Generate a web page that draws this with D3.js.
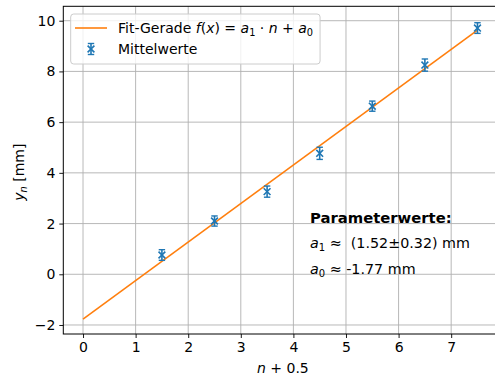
<!DOCTYPE html>
<html><head><meta charset="utf-8">
<script src="https://cdn.jsdelivr.net/npm/d3@7"></script>
<style>body{margin:0;background:#fff}svg{display:block;font-family:"DejaVu Sans",sans-serif}text{white-space:pre}</style>
</head><body><svg id="c" width="495" height="378"></svg>
<script>
const xVals = [1.5, 2.5, 3.5, 4.5, 5.5, 6.5, 7.5];
const yVals = [0.76, 2.10, 3.26, 4.77, 6.63, 8.25, 9.71];
const yErr = [0.21, 0.20, 0.22, 0.24, 0.20, 0.24, 0.21];
const fitSlope = 1.52, fitIntercept = -1.77;
const fitX = [0, 7.5];
const xTicks = [0,1,2,3,4,5,6,7];
const yTicks = [-2,0,2,4,6,8,10];

const svg = d3.select("#c");
const L=63.3, R=497.2, T=6.3, B=334;
const x = d3.scaleLinear().domain([-0.375,7.875]).range([L,R]);
const y = d3.scaleLinear().domain([-2.355,10.568]).range([B,T]);
const fs = 14;
const FF = "DejaVu Sans";

// grid
svg.append("g").selectAll("line").data(xTicks).join("line")
  .attr("x1",d=>x(d)).attr("x2",d=>x(d)).attr("y1",T).attr("y2",B)
  .attr("stroke","#b0b0b0").attr("stroke-width",0.9);
svg.append("g").selectAll("line").data(yTicks).join("line")
  .attr("y1",d=>y(d)).attr("y2",d=>y(d)).attr("x1",L).attr("x2",R)
  .attr("stroke","#b0b0b0").attr("stroke-width",0.9);

// fit line
svg.append("path").datum(fitX)
  .attr("d", d3.line().x(d=>x(d)).y(d=>y(fitSlope*d+fitIntercept)))
  .attr("stroke","#ff7f0e").attr("stroke-width",1.6).attr("fill","none");

// error bars
const blue="#1f77b4";
const pts = svg.append("g").selectAll("g").data(xVals.map((v,i)=>({x:v,y:yVals[i],e:yErr[i]}))).join("g");
pts.append("line").attr("x1",d=>x(d.x)).attr("x2",d=>x(d.x)).attr("y1",d=>y(d.y-d.e)).attr("y2",d=>y(d.y+d.e)).attr("stroke",blue).attr("stroke-width",1.6);
pts.append("line").attr("x1",d=>x(d.x)-3.2).attr("x2",d=>x(d.x)+3.2).attr("y1",d=>y(d.y-d.e)).attr("y2",d=>y(d.y-d.e)).attr("stroke",blue).attr("stroke-width",1.4);
pts.append("line").attr("x1",d=>x(d.x)-3.2).attr("x2",d=>x(d.x)+3.2).attr("y1",d=>y(d.y+d.e)).attr("y2",d=>y(d.y+d.e)).attr("stroke",blue).attr("stroke-width",1.4);
pts.append("path").attr("d",d=>{const cx=x(d.x),cy=y(d.y),s=3.4;return `M${cx-s},${cy-s}L${cx+s},${cy+s}M${cx-s},${cy+s}L${cx+s},${cy-s}`;})
  .attr("stroke",blue).attr("stroke-width",1.6);

// spines
svg.append("rect").attr("x",L).attr("y",T).attr("width",R-L).attr("height",B-T).attr("fill","none").attr("stroke","#000").attr("stroke-width",1);

// axes ticks
const xa = svg.append("g").attr("transform",`translate(0,${B})`).call(d3.axisBottom(x).tickValues(xTicks).tickSize(4).tickPadding(4).tickFormat(d3.format("d")));
const ya = svg.append("g").attr("transform",`translate(${L},0)`).call(d3.axisLeft(y).tickValues(yTicks).tickSize(4).tickPadding(4).tickFormat(d=>d<0?"\u2212"+(-d):d));
[xa,ya].forEach(a=>{a.attr("font-family",FF).attr("font-size",fs);a.select(".domain").remove();a.selectAll("text").attr("font-size",fs).attr("font-family",FF).attr("fill","#000");a.selectAll("line").attr("stroke","#000").attr("stroke-width",0.9);});

// axis labels
const xl = svg.append("text").attr("x",x(3.8)).attr("y",373).attr("text-anchor","middle").attr("font-size",fs).attr("font-family",FF);
xl.append("tspan").attr("font-style","italic").text("n");
xl.append("tspan").text(" + 0.5");
const yl = svg.append("text").attr("transform",`translate(24,${(T+B)/2+2}) rotate(-90)`).attr("text-anchor","middle").attr("font-size",fs).attr("font-family",FF);
yl.append("tspan").attr("font-style","italic").text("y");
yl.append("tspan").attr("font-style","italic").attr("font-size",fs*0.7).attr("dy",3).text("n");
yl.append("tspan").attr("dy",-3).text(" [mm]");

// legend
const lg = svg.append("g").attr("font-family",FF);
const box = lg.append("rect").attr("x",70.7).attr("y",14).attr("height",50).attr("rx",3)
  .attr("fill","#fff").attr("fill-opacity",0.8).attr("stroke","#cccccc").attr("stroke-width",1);
lg.append("line").attr("x1",75).attr("x2",107).attr("y1",28).attr("y2",28).attr("stroke","#ff7f0e").attr("stroke-width",1.6);
const t1 = lg.append("text").attr("x",118).attr("y",33).attr("font-size",fs);
t1.append("tspan").text("Fit-Gerade ");
t1.append("tspan").attr("font-style","italic").text("f");
t1.append("tspan").text("(");
t1.append("tspan").attr("font-style","italic").text("x");
t1.append("tspan").text(") = ");
t1.append("tspan").attr("font-style","italic").text("a");
t1.append("tspan").attr("font-size",fs*0.7).attr("dy",3).text("1");
t1.append("tspan").attr("dy",-3).text(" \u00b7 ");
t1.append("tspan").attr("font-style","italic").text("n");
t1.append("tspan").text(" + ");
t1.append("tspan").attr("font-style","italic").text("a");
t1.append("tspan").attr("font-size",fs*0.7).attr("dy",3).text("0");
const lx=91, ly=49;
lg.append("line").attr("x1",lx).attr("x2",lx).attr("y1",ly-5.5).attr("y2",ly+5.5).attr("stroke",blue).attr("stroke-width",1.6);
lg.append("line").attr("x1",lx-3.2).attr("x2",lx+3.2).attr("y1",ly-5.5).attr("y2",ly-5.5).attr("stroke",blue).attr("stroke-width",1.4);
lg.append("line").attr("x1",lx-3.2).attr("x2",lx+3.2).attr("y1",ly+5.5).attr("y2",ly+5.5).attr("stroke",blue).attr("stroke-width",1.4);
lg.append("path").attr("d",`M${lx-3.4},${ly-3.4}L${lx+3.4},${ly+3.4}M${lx-3.4},${ly+3.4}L${lx+3.4},${ly-3.4}`).attr("stroke",blue).attr("stroke-width",1.6);
lg.append("text").attr("x",118).attr("y",54).attr("font-size",fs).text("Mittelwerte");
const bb = t1.node().getBBox();
box.attr("width", bb.x+bb.width+7-70.7);

// parameter text
const pg = svg.append("g").attr("font-family",FF);
pg.append("text").attr("x",310).attr("y",223).attr("font-size",14.8).attr("font-weight","bold").text("Parameterwerte:");
const p1 = pg.append("text").attr("x",310).attr("y",248).attr("font-size",14.3);
p1.append("tspan").attr("font-style","italic").text("a");
p1.append("tspan").attr("font-size",14.3*0.7).attr("dy",3).text("1");
p1.append("tspan").attr("dy",-3).text(" \u2248  (1.52\u00b10.32) mm");
const p0 = pg.append("text").attr("x",310).attr("y",274).attr("font-size",14.3);
p0.append("tspan").attr("font-style","italic").text("a");
p0.append("tspan").attr("font-size",14.3*0.7).attr("dy",3).text("0");
p0.append("tspan").attr("dy",-3).text(" \u2248 -1.77 mm");
</script></body></html>
